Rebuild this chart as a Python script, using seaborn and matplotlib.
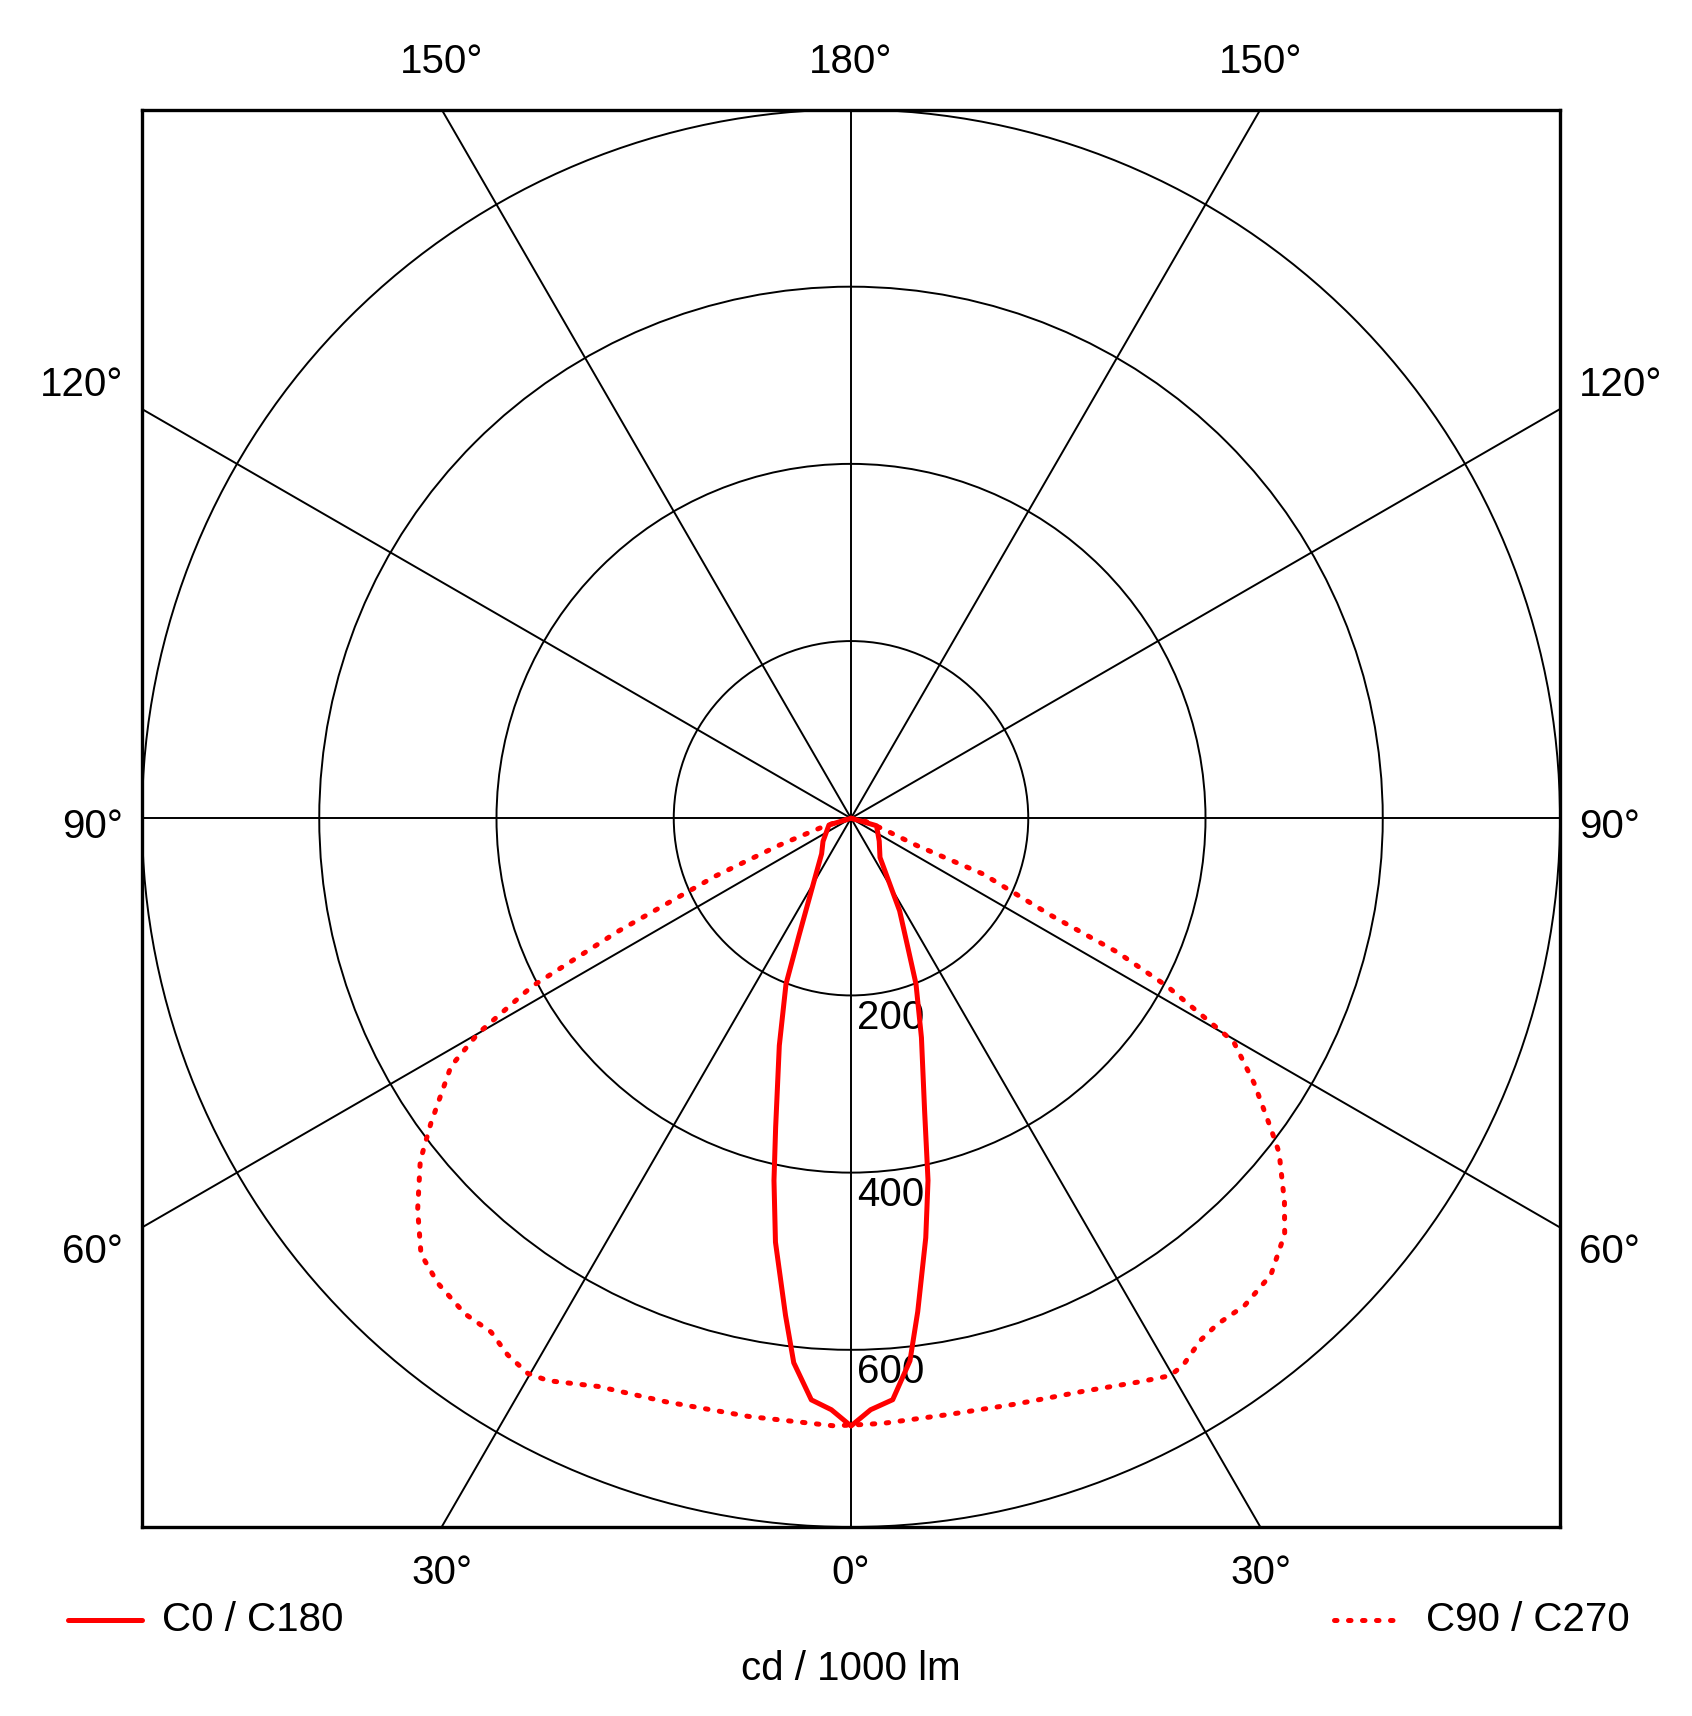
import numpy as np
import pandas as pd
import matplotlib
matplotlib.use("Agg")
import matplotlib.pyplot as plt
from matplotlib.lines import Line2D
from matplotlib.patches import Circle
import seaborn as sns

# ---------------- data (cd / 1000 lm) ----------------
c0_gamma = [0, 1.9, 4.1, 6.2, 7.7, 10.1, 12, 14.1, 17.8, 21.4, 23.7, 27.7, 36.5, 51, 73.7, 90]
c0_value = [686, 668, 658, 616, 562, 481, 418, 341, 260, 201, 160, 118, 55, 41, 30, 0]

c180_gamma = [0, 1.9, 3.9, 6, 7.5, 10.1, 12, 13.7, 17.5, 21.4, 23.9, 39.6, 50.4, 73, 90]
c180_value = [686, 668, 658, 618, 566, 486, 418, 359, 269, 201, 145, 52, 41, 26, 0]

c90_gamma = [0, 3, 9.4, 15.8, 22.1, 27.2, 29.8, 31.3, 33.8, 35.9, 38.9, 42.6, 46.2, 48.5,
             52, 53.6, 56.7, 59.7, 62, 63.3, 64.1, 67.1, 67.5, 71.5, 77.7, 90]
c90_value = [685, 684, 682, 687, 698, 715, 725, 722, 709, 705, 707, 700, 678, 653,
             613, 588, 544, 500, 404, 336, 250, 162, 80, 38, 17, 0]

c270_gamma = [0, 1.7, 9.7, 17.6, 24, 28.3, 30.2, 32.6, 35, 37.9, 41.6, 44.6, 47.9,
              51.5, 54, 58.2, 60, 62.2, 64.1, 66.9, 69.4, 73.7, 90]
c270_value = [685, 686, 685, 691, 702, 721, 725, 719, 708, 709, 702, 691, 659,
              621, 586, 531, 486, 407, 292, 166, 87, 30, 0]

ring_values = [200, 400, 600]
top_labels = ["150°", "180°", "150°"]
bottom_labels = ["30°", "0°", "30°"]
side_labels = ["120°", "90°", "60°"]
series_names = ["C0 / C180", "C90 / C270"]
unit_label = "cd / 1000 lm"
r_max = 800

# ---------------- build curves ----------------
def side_xy(gamma, value, sign):
    g = np.radians(np.asarray(gamma, float))
    v = np.asarray(value, float)
    return sign * v * np.sin(g), -v * np.cos(g)

def closed_curve(g_right, v_right, g_left, v_left):
    xr, yr = side_xy(g_right, v_right, 1)
    xl, yl = side_xy(g_left, v_left, -1)
    x = np.concatenate([xr[::-1], xl[1:]])
    y = np.concatenate([yr[::-1], yl[1:]])
    return pd.DataFrame({"x": x, "y": y})

df_solid = closed_curve(c0_gamma, c0_value, c180_gamma, c180_value)
df_dot = closed_curve(c90_gamma, c90_value, c270_gamma, c270_value)

# ---------------- figure ----------------
sns.set_theme(style="white")
plt.rcParams["font.family"] = ["Liberation Sans", "DejaVu Sans"]
plt.rcParams["text.color"] = "black"
W, H = 1692, 1716
fig = plt.figure(figsize=(W / 100, H / 100), dpi=100)
fig.patch.set_facecolor("white")

bx0, bx1, by0, by1 = 142, 1560, 109.5, 1527
ax = fig.add_axes([bx0 / W, 1 - by1 / H, (bx1 - bx0) / W, (by1 - by0) / H])
ax.set_xlim(-r_max, r_max)
ax.set_ylim(-r_max, r_max)
ax.set_xticks([])
ax.set_yticks([])
for s in ax.spines.values():
    s.set_color("black")
    s.set_linewidth(2.4)
    s.set_visible(True)
ax.set_facecolor("white")

grid_lw = 1.4
for r in ring_values + [r_max]:
    ax.add_patch(Circle((0, 0), r, fill=False, ec="black", lw=grid_lw, zorder=1))
for a in range(0, 180, 30):
    t = np.radians(a)
    L = 2000
    ax.plot([-L * np.sin(t), L * np.sin(t)], [L * np.cos(t), -L * np.cos(t)],
            color="black", lw=grid_lw, zorder=1)

fs = 29
for r in ring_values:
    ax.text(7, -(r + 25), str(r), ha="left", va="center", fontsize=fs, zorder=3,
            color="black")

red = "#ff0000"
dot_style = (0, (0.5, 2.3))
sns.lineplot(data=df_solid, x="x", y="y", sort=False, estimator=None, ax=ax,
             color=red, lw=3.6, zorder=4)
sns.lineplot(data=df_dot, x="x", y="y", sort=False, estimator=None, ax=ax,
             color=red, lw=3.6, zorder=4)
dot_line = ax.lines[-1]
dot_line.set_linestyle(dot_style)
dot_line.set_dash_capstyle("round")
ax.set_xlabel("")
ax.set_ylabel("")

# ---------------- angle labels ----------------
def ft(x, y, s, ha="center"):
    fig.text(x / W, 1 - y / H, s, ha=ha, va="center", fontsize=fs, color="black")

for x, s in zip([442, 851, 1261], top_labels):
    ft(x, 62, s)
for x, s in zip([442, 851, 1261], bottom_labels):
    ft(x, 1573, s)
for y, s in zip([385, 827, 1252], side_labels):
    ft(123, y, s, ha="right")
    ft(1579, y, s, ha="left")

# ---------------- legend & unit ----------------
fig.add_artist(Line2D([68 / W, 142 / W], [1 - 1620 / H] * 2, transform=fig.transFigure,
                      color=red, lw=3.6, solid_capstyle="round"))
ft(162, 1620, series_names[0], ha="left")
fig.add_artist(Line2D([1334 / W, 1398 / W], [1 - 1620 / H] * 2, transform=fig.transFigure,
                      color=red, lw=3.6, linestyle=dot_style, dash_capstyle="round"))
ft(1426, 1620, series_names[1], ha="left")
ft(851, 1669, unit_label)

fig.savefig("out.png", dpi=100, facecolor="white")
